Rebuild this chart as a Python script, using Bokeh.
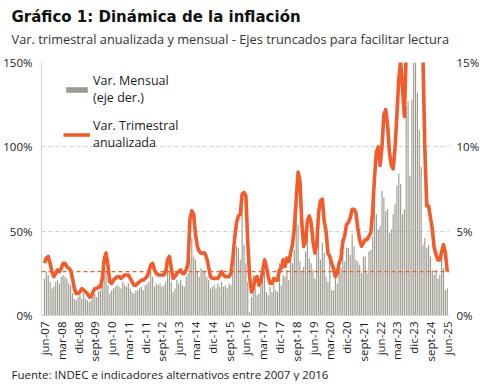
import numpy as np
from bokeh.plotting import figure
from bokeh.models import (Range1d, LinearAxis, Span, Title, Legend, LegendItem,
                          FixedTicker, PrintfTickFormatter, ColumnDataSource)
from bokeh.embed import file_html
from bokeh.resources import INLINE

# ---------------- data ----------------
meses = ["ene", "feb", "mar", "abr", "may", "jun", "jul", "ago", "sept", "oct", "nov", "dic"]

# Variacion mensual (%), jun-07 .. jun-25 (eje derecho)
mensual = [
    2.2, 2.6, 2.4, 2.0, 1.6, 1.7, 2.0,
    2.1, 1.9, 2.3, 2.4, 2.3, 2.2, 1.9, 1.8, 1.3, 1.0, 0.9, 1.1,
    1.2, 1.0, 1.3, 1.0, 0.9, 0.8, 0.9, 1.2, 1.3, 1.1, 1.4, 1.5,
    2.4, 3.0, 2.6, 1.8, 1.3, 1.5, 1.6, 1.7, 1.8, 1.7, 1.6, 2.0,
    1.8, 1.7, 1.9, 1.6, 1.4, 1.3, 1.5, 1.5, 1.6, 1.7, 1.5, 1.8,
    1.9, 2.0, 2.6, 2.3, 1.7, 1.9, 1.8, 1.9, 1.7, 1.8, 2.0, 2.8,
    2.6, 2.0, 1.4, 1.6, 2.1, 1.9, 2.1, 1.8, 1.7, 2.3, 2.5, 3.4,
    4.6, 3.5, 3.3, 2.6, 2.3, 2.8, 2.7, 2.6, 2.3, 2.1, 1.6, 1.7,
    1.8, 1.6, 1.9, 1.7, 2.0, 1.7, 1.8, 1.6, 1.9, 1.8, 2.8, 3.9,
    4.1, 4.0, 3.3, 6.5, 4.2, 3.1, 2.0, 0.2, 1.1, 2.4, 1.6, 1.2,
    1.3, 2.1, 2.4, 2.6, 1.4, 1.2, 1.7, 1.4, 1.9, 1.5, 1.4, 3.1,
    1.8, 2.4, 2.3, 2.7, 2.1, 3.7, 3.1, 3.9, 6.5, 5.4, 3.2, 2.6,
    2.9, 3.8, 4.7, 3.4, 3.1, 2.7, 2.2, 4.0, 5.9, 3.3, 4.3, 3.7,
    2.3, 2.0, 3.3, 1.5, 1.5, 2.2, 1.9, 2.7, 2.8, 3.8, 3.2, 4.0,
    4.0, 3.6, 4.8, 4.1, 3.3, 3.2, 3.0, 2.5, 3.5, 3.5, 2.5, 3.8,
    3.9, 4.7, 6.7, 6.0, 5.1, 5.3, 7.4, 7.0, 6.2, 6.3, 4.9, 5.1,
    6.0, 6.6, 7.7, 8.4, 7.8, 6.0, 6.3, 12.4, 12.7, 8.3, 12.8, 25.5,
    20.6, 13.2, 11.0, 8.8, 4.2, 4.6, 4.0, 4.2, 3.5, 2.7, 2.4, 2.7,
    2.2, 2.4, 3.7, 2.8, 1.5, 1.6,
]

# Variacion trimestral anualizada (%), jun-07 .. jun-25 (eje izquierdo)
trimestral = [
    31, 34, 35, 31, 26, 23, 25,
    27, 26, 28, 31, 31, 29, 28, 27, 22, 16, 13, 13,
    14, 16, 15, 14, 13, 11, 11, 14, 16, 16, 17, 17,
    22, 33, 37, 30, 20, 19, 21, 22, 23, 23, 22, 23,
    24, 24, 24, 22, 20, 18, 18, 19, 20, 21, 21, 22,
    23, 26, 30, 31, 27, 25, 24, 24, 24, 24, 26, 33,
    35, 28, 22, 23, 25, 26, 27, 25, 25, 27, 31, 57,
    62, 60, 48, 41, 38, 37, 37, 37, 34, 29, 23, 22,
    22, 22, 22, 24, 26, 24, 23, 23, 23, 25, 34, 46,
    55, 59, 60, 72, 73, 71, 44, 23, 14, 16, 22, 23,
    18, 20, 26, 33, 29, 23, 19, 19, 22, 21, 21, 27,
    28, 33, 29, 34, 32, 37, 42, 52, 69, 85, 80, 55,
    41, 44, 56, 59, 55, 44, 37, 42, 61, 68, 69, 56,
    50, 37, 35, 31, 28, 23, 25, 31, 34, 44, 47, 54,
    55, 58, 63, 63, 61, 52, 45, 41, 43, 45, 45, 47,
    49, 62, 82, 97, 100, 89, 100, 119, 122, 113, 97, 89,
    87, 99, 119, 140, 151, 135, 118, 157, 229, 254, 259, 453,
    750, 761, 427, 249, 151, 98, 65, 65, 58, 51, 40, 36,
    33, 33, 38, 42, 37, 26,
]

tick_labels = ["jun-07", "mar-08", "dic-08", "sept-09", "jun-10", "mar-11", "dic-11",
               "sept-12", "jun-13", "mar-14", "dic-14", "sept-15", "jun-16", "mar-17",
               "dic-17", "sept-18", "jun-19", "mar-20", "dic-20", "sept-21", "jun-22",
               "mar-23", "dic-23", "sept-24", "jun-25"]

left_ticks = [0, 50, 100, 150]
right_ticks = [0, 5, 10, 15]

# month labels for every observation
etiquetas = []
y, m = 2007, 5
for _ in range(len(mensual)):
    etiquetas.append(f"{meses[m]}-{y % 100:02d}")
    m += 1
    if m == 12:
        m = 0
        y += 1

idx = list(range(len(mensual)))
tick_pos = [etiquetas.index(t) for t in tick_labels]

src = ColumnDataSource(dict(x=idx, mensual=mensual, trimestral=trimestral, mes=etiquetas))

FONT = "Open Sans"
ORANGE = "#F25C2B"
GREY = "#9D9B91"
TXT = "#1a1a1a"

p = figure(width=482, height=381, output_backend="svg", toolbar_location=None,
           x_range=Range1d(-1.6, 217.2), y_range=Range1d(0, 150),
           min_border_left=0, min_border_right=0, min_border_top=0, min_border_bottom=0)
p.outline_line_color = None
p.background_fill_color = "white"
p.border_fill_color = "white"

p.extra_y_ranges = {"der": Range1d(0, 15)}

bars = p.vbar(x="x", top="mensual", width=0.62, source=src, y_range_name="der",
              fill_color=GREY, line_color=None)
ln = p.line(x="x", y="trimestral", source=src, line_color=ORANGE, line_width=3.6,
            line_join="round")

span = Span(location=trimestral[-1], dimension="width", line_color=ORANGE,
            line_dash="4 3", line_width=1.2)
p.add_layout(span)

# axes
p.xaxis.ticker = FixedTicker(ticks=tick_pos)
p.xaxis.major_label_overrides = {pos: lab for pos, lab in zip(tick_pos, tick_labels)}
p.xaxis.major_label_orientation = np.pi / 2
p.xaxis.major_tick_line_color = None
p.xaxis.major_tick_out = 0
p.xaxis.major_tick_in = 0
p.xaxis.minor_tick_line_color = None
p.xaxis.axis_line_color = "#d4d4d4"
p.xaxis.major_label_text_font = FONT
p.xaxis.major_label_text_font_size = "11.5px"
p.xaxis.major_label_text_color = TXT
p.xaxis.major_label_standoff = 6

p.yaxis.ticker = FixedTicker(ticks=left_ticks)
p.yaxis.formatter = PrintfTickFormatter(format="%d%%")
p.yaxis.major_tick_line_color = None
p.yaxis.major_tick_out = 0
p.yaxis.major_tick_in = 0
p.yaxis.minor_tick_line_color = None
p.yaxis.axis_line_color = "#d4d4d4"
p.yaxis.major_label_text_font = FONT
p.yaxis.major_label_text_font_size = "11.5px"
p.yaxis.major_label_text_color = TXT
p.yaxis.major_label_standoff = 9

ax_r = LinearAxis(y_range_name="der", ticker=FixedTicker(ticks=right_ticks),
                  formatter=PrintfTickFormatter(format="%d%%"))
ax_r.axis_line_color = None
ax_r.major_tick_line_color = None
ax_r.major_tick_out = 0
ax_r.major_tick_in = 0
ax_r.minor_tick_line_color = None
ax_r.major_label_text_font = FONT
ax_r.major_label_text_font_size = "11.5px"
ax_r.major_label_text_color = TXT
ax_r.major_label_standoff = 7
p.add_layout(ax_r, "right")

p.xgrid.grid_line_color = None
p.ygrid.ticker = FixedTicker(ticks=left_ticks)
p.ygrid.grid_line_color = "#cfcfcf"
p.ygrid.grid_line_dash = "4 3"

# legend
legend = Legend(items=[
    LegendItem(label="Var. Mensual\n(eje der.)", renderers=[bars]),
    LegendItem(label="Var. Trimestral\nanualizada", renderers=[ln]),
], location=(22, 164))
legend.background_fill_alpha = 0
legend.border_line_color = None
legend.label_text_font = FONT
legend.label_text_font_size = "12.5px"
legend.label_text_line_height = 1.65
legend.label_text_color = TXT
legend.glyph_width = 27
legend.glyph_height = 7
legend.spacing = 11
legend.margin = 0
legend.padding = 0
legend.label_standoff = 3
p.add_layout(legend)

# titles (closest to the frame first)
p.title.text = ""
spacer = Title(text=" ", text_font_size="2px", standoff=11)
p.add_layout(spacer, "above")
sub = Title(text="Var. trimestral  anualizada y mensual - Ejes truncados para facilitar lectura",
            text_font=FONT, text_font_size="12.8px", text_font_style="normal",
            text_color="#333333", align="left", offset=-30, standoff=0)
p.add_layout(sub, "above")
main = Title(text="Gráfico 1: Dinámica de la inflación", text_font="DejaVu Sans",
             text_font_size="15px", text_font_style="bold", text_color="#111111",
             align="left", offset=-30, standoff=3)
p.add_layout(main, "above")
top_pad = Title(text=" ", text_font_size="2px", standoff=0)
p.add_layout(top_pad, "above")

foot = Title(text="Fuente: INDEC e indicadores alternativos entre 2007 y 2016",
             text_font=FONT, text_font_size="11.5px", text_font_style="normal",
             text_color=TXT, align="left", offset=-30, standoff=0,
             vertical_align="bottom")
p.add_layout(foot, "below")

open("out.html", "w").write(file_html(p, INLINE))
